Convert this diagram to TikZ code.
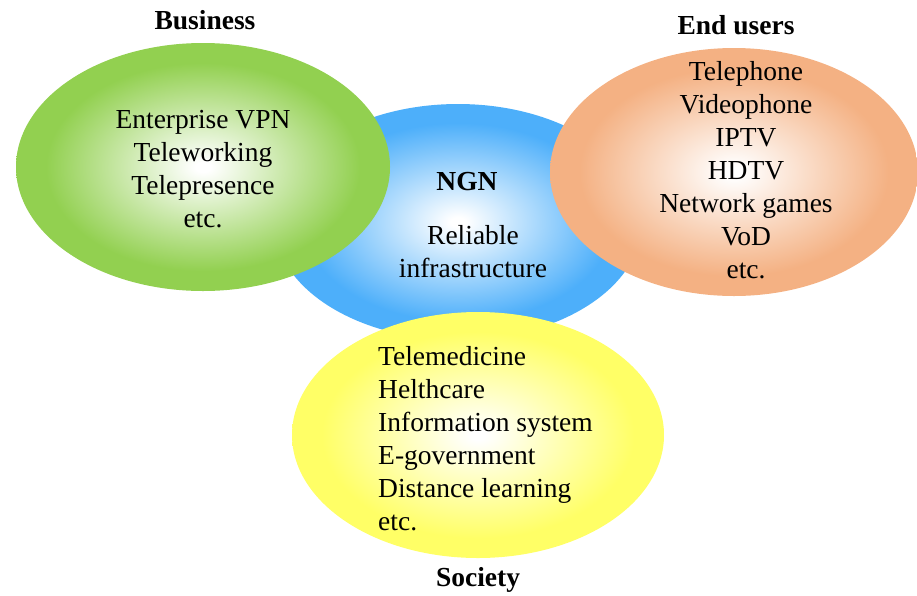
\documentclass[tikz,border=0pt]{standalone}
\usepackage{fontspec}
\setmainfont{Liberation Serif}
\definecolor{cgreen}{RGB}{146,208,80}
\definecolor{corange}{RGB}{244,177,131}
\definecolor{cblue}{RGB}{77,175,250}
\definecolor{cyellow}{RGB}{255,255,102}
\pgfdeclareradialshading{greenball}{\pgfpoint{0bp}{0bp}}{color(0bp)=(white); color(1bp)=(white); color(21bp)=(cgreen); color(50bp)=(cgreen)}
\pgfdeclareradialshading{orangeball}{\pgfpoint{0bp}{0bp}}{color(0bp)=(white); color(1bp)=(white); color(21bp)=(corange); color(50bp)=(corange)}
\pgfdeclareradialshading{blueball}{\pgfpoint{0bp}{0bp}}{color(0bp)=(white); color(1bp)=(white); color(21bp)=(cblue); color(50bp)=(cblue)}
\pgfdeclareradialshading{yellowball}{\pgfpoint{0bp}{0bp}}{color(0bp)=(white); color(1bp)=(white); color(21bp)=(cyellow); color(50bp)=(cyellow)}
\tikzset{
  txt/.style={font=\fontsize{27.5}{33}\selectfont, inner sep=0pt},
  ttl/.style={font=\fontsize{27.5}{33}\selectfont\bfseries, inner sep=0pt}
}
\begin{document}
\begin{tikzpicture}[x=1pt,y=-1pt]
\useasboundingbox (0,0) rectangle (917,595);
\begin{scope}
\clip (0,0) rectangle (917,595);
\shade[shading=blueball] (458,222) ellipse [x radius=184, y radius=118];
\shade[shading=greenball] (203,167) ellipse [x radius=187, y radius=124];
\shade[shading=orangeball] (734,172) ellipse [x radius=184, y radius=124];
\shade[shading=yellowball] (478,435) ellipse [x radius=186, y radius=123];
\end{scope}
\node[ttl] (business) at (205,20) {Business};
\node[ttl] (endusers) at (736,25) {End users};
\node[ttl] (society) at (478,580) {Society};
\node[ttl] (ngn) at (467,182) {NGN};
\node[txt, align=center] (ngnlist) at (473,252) {Reliable\\infrastructure};
\node[txt, align=center] (buslist) at (203,169.5) {Enterprise VPN\\Teleworking\\Telepresence\\etc.};
\node[txt, align=center] (userlist) at (746,170.5) {Telephone\\Videophone\\IPTV\\HDTV\\Network games\\VoD\\etc.};
\node[txt, align=left, anchor=west] (soclist) at (378,438.5) {Telemedicine\\Helthcare\\Information system\\E-government\\Distance learning\\etc.};
\end{tikzpicture}
\end{document}
